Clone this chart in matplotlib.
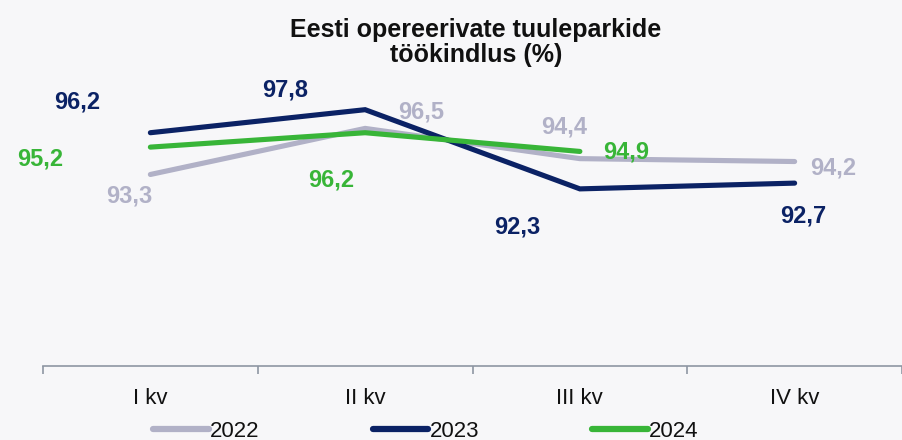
import matplotlib
matplotlib.use("Agg")
import matplotlib.pyplot as plt

categories = ["I kv", "II kv", "III kv", "IV kv"]
v2022 = [93.3, 96.5, 94.4, 94.2]
v2023 = [96.2, 97.8, 92.3, 92.7]
v2024 = [95.2, 96.2, 94.9]
title = "Eesti opereerivate tuuleparkide\ntöökindlus (%)"

c2022 = "#B1B1C7"
c2023 = "#0B2265"
c2024 = "#38B538"
bg = "#F7F7F9"

font = ["Liberation Sans", "DejaVu Sans"]

fig = plt.figure(figsize=(9.02, 4.40), dpi=100, facecolor=bg)
ax = fig.add_axes([43/902, (440-366)/440, 1-43/902, (366-78)/440])
ax.set_facecolor(bg)

x = list(range(len(categories)))
kw = dict(lw=3.7, solid_capstyle="round", solid_joinstyle="miter")
l1, = ax.plot(x, v2022, color=c2022, label="2022", zorder=2, **kw)
l2, = ax.plot(x, v2023, color=c2023, label="2023", zorder=3, **kw)
l3, = ax.plot(x[:len(v2024)], v2024, color=c2024, label="2024", zorder=4, **kw)

ax.set_xlim(-0.5, 3.5)
ax.set_ylim(80, 100)
ax.set_yticks([])
for s in ["top", "right", "left"]:
    ax.spines[s].set_visible(False)
ax.spines["bottom"].set_color("#8E96A3")
ax.spines["bottom"].set_linewidth(1.2)
ax.set_xticks([-0.5, 0.5, 1.5, 2.5, 3.5])
ax.set_xticklabels([])
ax.tick_params(axis="x", length=5.5, color="#8E96A3", width=1.2)
ax.set_xticks(x, minor=True)
ax.set_xticklabels(categories, minor=True, fontfamily=font, fontsize=16, color="#111111")
ax.tick_params(axis="x", which="minor", length=0, pad=15.5)

def fmt(v):
    return f"{v:.1f}".replace(".", ",")

# offsets (pixels) of label digit-centre from the data point, y up
off2022 = [(-21, -20), (56, 18), (-16, 34), (39, -4)]
off2023 = [(-73, 33), (-80, 22), (-63, -36), (9, -31)]
off2024 = [(-110, -10), (-34, -45), (46, 1)]
for vals, offs, col in [(v2022, off2022, c2022), (v2023, off2023, c2023), (v2024, off2024, c2024)]:
    for i, (v, o) in enumerate(zip(vals, offs)):
        ax.annotate(fmt(v), (i, v), xytext=(o[0], o[1] - 8.5), textcoords="offset pixels",
                    ha="center", va="baseline", fontsize=17, fontweight="bold",
                    color=col, fontfamily=font)

fig.text(476/902, 1-42.5/440, title, ha="center", va="center", fontsize=18,
         fontweight="bold", fontfamily=font, color="#111111", linespacing=1.07)

leg = fig.legend(handles=[l1, l2, l3], loc="center", bbox_to_anchor=(426/902, 9/440),
                 ncol=3, frameon=False, handlelength=2.5, handletextpad=0.05,
                 columnspacing=5.1, prop={"family": font, "size": 16},
                 borderpad=0, borderaxespad=0)
for t in leg.get_texts():
    t.set_color("#111111")
for h in leg.legend_handles:
    h.set_linewidth(4.5)
    h.set_solid_capstyle("round")

fig.savefig("out.png", dpi=100, facecolor=bg)
